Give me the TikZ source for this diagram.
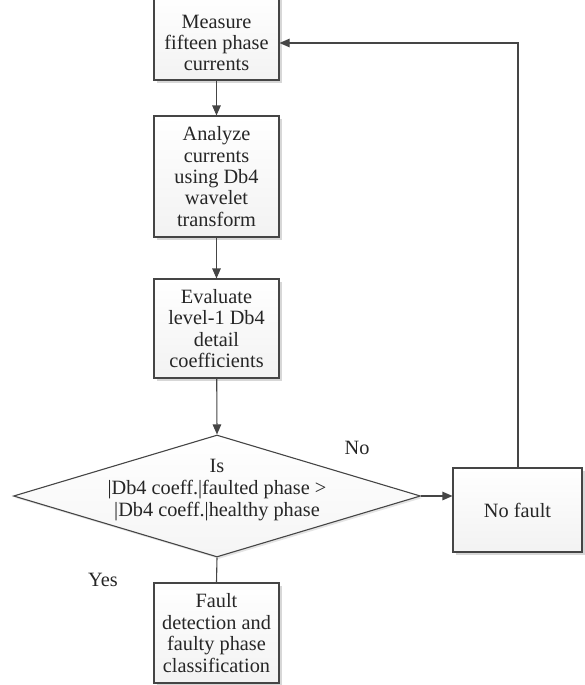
\documentclass[tikz,border=0pt]{standalone}
\usepackage{fontspec}
\setmainfont{Liberation Serif}
\usetikzlibrary{arrows.meta,shapes.geometric,shadows}
\definecolor{edge}{HTML}{454545}
\definecolor{txt}{HTML}{262626}
\tikzset{
  procbox/.style={draw=edge, line width=1.1pt, rectangle, inner sep=0pt,
    top color=white, bottom color=gray!10, text=txt, align=center,
    font=\fontsize{20.3}{21.4}\selectfont,
    drop shadow={shadow xshift=2.5pt, shadow yshift=-2.5pt, fill=gray!45, opacity=0.7}},
  decide/.style={draw=edge, line width=1.1pt, diamond, inner sep=0pt,
    top color=white, bottom color=gray!8,
    drop shadow={shadow xshift=2pt, shadow yshift=-2pt, fill=gray!35, opacity=0.6}},
  lbl/.style={text=txt, align=center, font=\fontsize{20.3}{22}\selectfont, inner sep=0pt},
  flow/.style={draw=edge, line width=1.1pt, -{Triangle[length=10pt,width=8.5pt]}},
  plain/.style={draw=edge, line width=1.1pt}
}
\begin{document}
\begin{tikzpicture}[x=1pt,y=-1pt]
\useasboundingbox (0,0) rectangle (584,685);
\node[procbox, minimum width=125pt, minimum height=84pt] (m) at (216.5,38) {};
\node[lbl, font=\fontsize{20.3}{21.4}\selectfont] (mt) at (216.5,43)
  {Measure\\fifteen phase\\currents};
\node[procbox, minimum width=125pt, minimum height=121pt] (a) at (216.5,176.5)
  {Analyze\\currents\\using Db4\\wavelet\\transform};
\node[procbox, minimum width=125pt, minimum height=99pt] (e) at (216.5,328.5)
  {Evaluate\\level-1 Db4\\detail\\coefficients};
\node[decide, minimum width=407pt, minimum height=122pt] (d) at (217,496) {};
\node[lbl] (dt) at (217,490) {Is\\|Db4 coeff.|faulted phase >\\|Db4 coeff.|healthy phase};
\node[procbox, minimum width=129pt, minimum height=84pt] (nf) at (517.5,510) {No fault};
\node[procbox, minimum width=125pt, minimum height=100pt] (f) at (216.5,633)
  {Fault\\detection and\\faulty phase\\classification};
\node[lbl] (no) at (357,448) {No};
\node[lbl] (yes) at (103,580) {Yes};
\coordinate (fb) at (518,43);
\draw[flow] (m) -- (a);
\draw[flow] (a) -- (e);
\draw[flow] (e) -- (d.north);
\draw[flow] (d.east) -- (nf.west |- d.east);
\draw[plain] (d.south) -- (f.north);
\draw[flow] (nf.north -| fb) -- (fb) -- (m.east |- fb);
\end{tikzpicture}
\end{document}
